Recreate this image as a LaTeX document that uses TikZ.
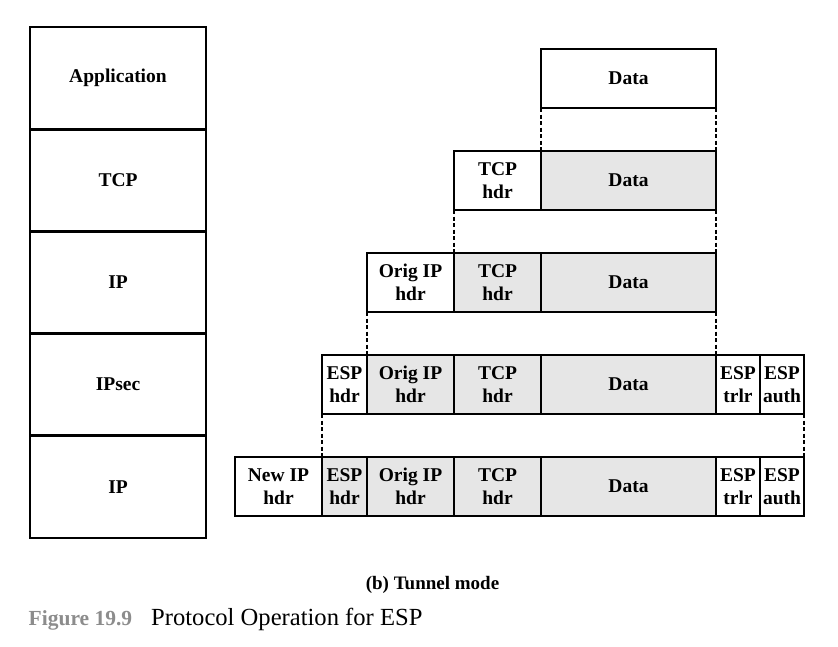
\documentclass[tikz,border=0pt]{standalone}
\usepackage{fontspec}
\setmainfont{Liberation Serif}
\definecolor{cellgray}{RGB}{230,230,230}
\definecolor{figgray}{RGB}{140,140,140}
\newcommand{\hdrfont}{\fontsize{19.5}{22.5}\selectfont\bfseries}
\tikzset{
  cell/.style={draw, line width=2.8pt, minimum height=59pt, inner sep=0pt,
    outer sep=0pt, anchor=north west, align=center, font=\hdrfont},
  gcell/.style={cell, fill=cellgray},
  layer/.style={draw, line width=2.8pt, minimum width=176pt, minimum height=102.2pt,
    inner sep=0pt, outer sep=0pt, anchor=north west, align=center, font=\hdrfont},
  dashline/.style={line width=1.6pt, dash pattern=on 4pt off 2.5pt}
}
\begin{document}
\begin{tikzpicture}[x=1pt,y=-1pt]
\useasboundingbox (0,0) rectangle (838,646);
% protocol stack
\node[layer] (sApp)   at (30,27)    {Application};
\node[layer] (sTCP)   at (30,129.2) {TCP};
\node[layer] (sIP)    at (30,231.4) {IP};
\node[layer] (sIPsec) at (30,333.6) {IPsec};
\node[layer] (sIPn)   at (30,435.8) {IP};
% row 1
\node[cell, minimum width=175pt] (aData) at (541,49) {Data};
% row 2
\node[cell, minimum width=87pt] (bTCP) at (454,151) {TCP\\hdr};
\node[gcell, minimum width=175pt] (bData) at (541,151) {Data};
% row 3
\node[cell, minimum width=87pt] (cOrig) at (367,253) {Orig IP\\hdr};
\node[gcell, minimum width=87pt] (cTCP) at (454,253) {TCP\\hdr};
\node[gcell, minimum width=175pt] (cData) at (541,253) {Data};
% row 4
\node[cell, minimum width=45pt] (dESP) at (322,355) {ESP\\hdr};
\node[gcell, minimum width=87pt] (dOrig) at (367,355) {Orig IP\\hdr};
\node[gcell, minimum width=87pt] (dTCP) at (454,355) {TCP\\hdr};
\node[gcell, minimum width=175pt] (dData) at (541,355) {Data};
\node[cell, minimum width=44pt] (dTrl) at (716,355) {ESP\\trlr};
\node[cell, minimum width=44pt] (dAuth) at (760,355) {ESP\\auth};
% row 5
\node[cell, minimum width=87pt] (eNew) at (235,457) {New IP\\hdr};
\node[gcell, minimum width=45pt] (eESP) at (322,457) {ESP\\hdr};
\node[gcell, minimum width=87pt] (eOrig) at (367,457) {Orig IP\\hdr};
\node[gcell, minimum width=87pt] (eTCP) at (454,457) {TCP\\hdr};
\node[gcell, minimum width=175pt] (eData) at (541,457) {Data};
\node[cell, minimum width=44pt] (eTrl) at (716,457) {ESP\\trlr};
\node[cell, minimum width=44pt] (eAuth) at (760,457) {ESP\\auth};
% dashed connectors
\draw[dashline] (aData.south west) -- (bData.north west);
\draw[dashline] (aData.south east) -- (bData.north east);
\draw[dashline] (bTCP.south west) -- (cTCP.north west);
\draw[dashline] (bData.south east) -- (cData.north east);
\draw[dashline] (cOrig.south west) -- (dOrig.north west);
\draw[dashline] (cData.south east) -- (dData.north east);
\draw[dashline] (dESP.south west) -- (eESP.north west);
\draw[dashline] (dAuth.south east) -- (eAuth.north east);
% captions
\node[anchor=base, font=\fontsize{19}{22}\selectfont\bfseries] (sub) at (432.5,589) {(b) Tunnel mode};
\node[anchor=base west, inner sep=0pt, text=figgray, font=\fontsize{21.5}{25}\selectfont\bfseries] (fignum) at (28.5,625) {Figure 19.9};
\node[anchor=base west, inner sep=0pt, font=\fontsize{24.6}{28}\selectfont] (figtitle) at (151,625) {Protocol Operation for ESP};
\end{tikzpicture}
\end{document}
